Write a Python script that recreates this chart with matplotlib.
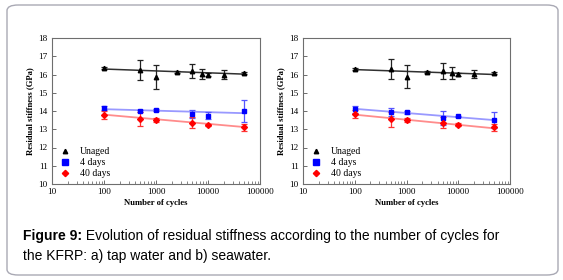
import matplotlib
matplotlib.use("Agg")
import matplotlib.pyplot as plt
from matplotlib.patches import FancyBboxPatch
from matplotlib.lines import Line2D
from matplotlib.ticker import FixedLocator, FixedFormatter, LogLocator, NullFormatter
import numpy as np

# ---------------- data ----------------
cycles_unaged = [100, 500, 1000, 2500, 5000, 7500, 10000, 20000, 50000]
cycles_aged = [100, 500, 1000, 5000, 10000, 50000]

# a) tap water
tap_unaged = [16.35, 16.25, 15.85, 16.15, 16.2, 16.05, 16.0, 16.0, 16.1]
tap_unaged_err = [0.05, 0.57, 0.65, 0.05, 0.4, 0.27, 0.08, 0.23, 0.05]
tap_4d = [14.15, 14.0, 14.05, 13.85, 13.75, 14.0]
tap_4d_err = [0.1, 0.05, 0.05, 0.22, 0.2, 0.62]
tap_40d = [13.8, 13.55, 13.5, 13.35, 13.25, 13.1]
tap_40d_err = [0.22, 0.38, 0.1, 0.3, 0.05, 0.2]
tap_trend_unaged = [16.3, 16.02]
tap_trend_4d = [14.1, 13.88]
tap_trend_40d = [13.8, 13.12]

# b) seawater
sea_unaged = [16.3, 16.28, 15.88, 16.15, 16.2, 16.07, 16.02, 16.02, 16.1]
sea_unaged_err = [0.05, 0.55, 0.62, 0.05, 0.42, 0.33, 0.08, 0.22, 0.05]
sea_4d = [14.1, 13.95, 13.93, 13.6, 13.7, 13.5]
sea_4d_err = [0.2, 0.2, 0.07, 0.38, 0.05, 0.42]
sea_40d = [13.82, 13.55, 13.5, 13.35, 13.25, 13.1]
sea_40d_err = [0.22, 0.42, 0.1, 0.3, 0.08, 0.2]
sea_trend_unaged = [16.27, 16.0]
sea_trend_4d = [14.12, 13.5]
sea_trend_40d = [13.8, 13.05]

trend_x = [100, 50000]
xtick_vals = [10, 100, 1000, 10000, 100000]
xtick_labels = ["10", "100", "1000", "10000", "100000"]
ytick_vals = [10, 11, 12, 13, 14, 15, 16, 17, 18]
legend_labels = ["Unaged", "4 days", "40 days"]

# --------------- figure ---------------
W, H = 563, 280
fig = plt.figure(figsize=(W / 100, H / 100), dpi=100)
fig.patch.set_facecolor("white")

box = FancyBboxPatch((7 / W, 5 / H), 551 / W, 270 / H,
                     boxstyle="round,pad=0,rounding_size=0.02",
                     transform=fig.transFigure, facecolor="none",
                     edgecolor="#a9a9b4", linewidth=1.0, zorder=-5)
fig.patches.append(box)

serif = ["Liberation Serif", "DejaVu Serif"]
sans = ["Liberation Sans", "DejaVu Sans"]


def panel(rect, unaged, unaged_err, d4, d4_err, d40, d40_err, tr_u, tr_4, tr_40):
    ax = fig.add_axes(rect)
    ax.set_zorder(2)
    ax.patch.set_alpha(0)
    ax.set_xscale("log")
    ax.set_xlim(10, 100000)
    ax.set_ylim(10, 18)

    # trend lines
    ax.plot(trend_x, tr_u, color="#303030", lw=1.1, zorder=2)
    ax.plot(trend_x, tr_4, color="#9999ff", lw=1.3, zorder=2)
    ax.plot(trend_x, tr_40, color="#ff8c8c", lw=1.3, zorder=2)

    ax.errorbar(cycles_unaged, unaged, yerr=unaged_err, fmt="^", color="black",
                ecolor="#222222", elinewidth=0.9, capsize=2.2, capthick=0.9,
                markersize=3.2, zorder=3)
    ax.errorbar(cycles_aged, d4, yerr=d4_err, fmt="s", color="#0000ff",
                ecolor="#5555ff", elinewidth=0.9, capsize=2.2, capthick=0.9,
                markersize=3.5, zorder=3)
    ax.errorbar(cycles_aged, d40, yerr=d40_err, fmt="D", color="#ff0000",
                ecolor="#ff3333", elinewidth=0.9, capsize=2.2, capthick=0.9,
                markersize=3.0, zorder=3)

    ax.xaxis.set_major_locator(FixedLocator(xtick_vals))
    ax.xaxis.set_major_formatter(FixedFormatter(xtick_labels))
    ax.xaxis.set_minor_locator(LogLocator(base=10, subs=np.arange(2, 10)))
    ax.xaxis.set_minor_formatter(NullFormatter())
    ax.set_yticks(ytick_vals)
    ax.set_yticklabels([str(v) for v in ytick_vals])

    ax.tick_params(axis="both", which="both", direction="in", labelsize=6.6,
                   color="#555555", top=False, right=False)
    ax.tick_params(axis="both", which="major", length=3, width=0.6, pad=3)
    ax.tick_params(axis="x", which="minor", length=2, width=0.5)
    for lab in ax.get_xticklabels() + ax.get_yticklabels():
        lab.set_family(serif)
    for s in ax.spines.values():
        s.set_color("#6e6e6e")
        s.set_linewidth(0.8)

    ax.set_xlabel("Number of cycles", family=serif, fontsize=6.2,
                  fontweight="bold", labelpad=2)
    ax.set_ylabel("Residual stiffness (GPa)", family=serif, fontsize=6.2,
                  fontweight="bold", labelpad=3)

    handles = [
        Line2D([], [], ls="none", marker="^", color="black", markersize=3.2),
        Line2D([], [], ls="none", marker="s", color="#0000ff", markersize=3.8),
        Line2D([], [], ls="none", marker="D", color="#ff0000", markersize=3.2),
    ]
    ax.legend(handles, legend_labels, loc="lower left",
              bbox_to_anchor=(0.005, 0.0), frameon=False,
              prop={"family": serif, "size": 7}, handlelength=1.2,
              handletextpad=1.0, labelspacing=0.2, borderaxespad=0.2)
    return ax


panel([52 / W, 1 - 184 / H, 208 / W, 146 / H],
      tap_unaged, tap_unaged_err, tap_4d, tap_4d_err, tap_40d, tap_40d_err,
      tap_trend_unaged, tap_trend_4d, tap_trend_40d)
panel([303 / W, 1 - 184 / H, 207 / W, 146 / H],
      sea_unaged, sea_unaged_err, sea_4d, sea_4d_err, sea_40d, sea_40d_err,
      sea_trend_unaged, sea_trend_4d, sea_trend_40d)

# caption
cap_x = 23 / W
fs = 10
t1 = fig.text(cap_x, 1 - 236 / H, "Figure 9:", family=sans, fontsize=fs,
              fontweight="bold", va="center", ha="left")
fig.canvas.draw()
bb = t1.get_window_extent()
fig.text(bb.x1 / W, 1 - 236 / H,
         " Evolution of residual stiffness according to the number of cycles for",
         family=sans, fontsize=fs, va="center", ha="left")
fig.text(cap_x, 1 - 256 / H, "the KFRP: a) tap water and b) seawater.",
         family=sans, fontsize=fs, va="center", ha="left")

fig.savefig("out.png", dpi=100, facecolor="white")
